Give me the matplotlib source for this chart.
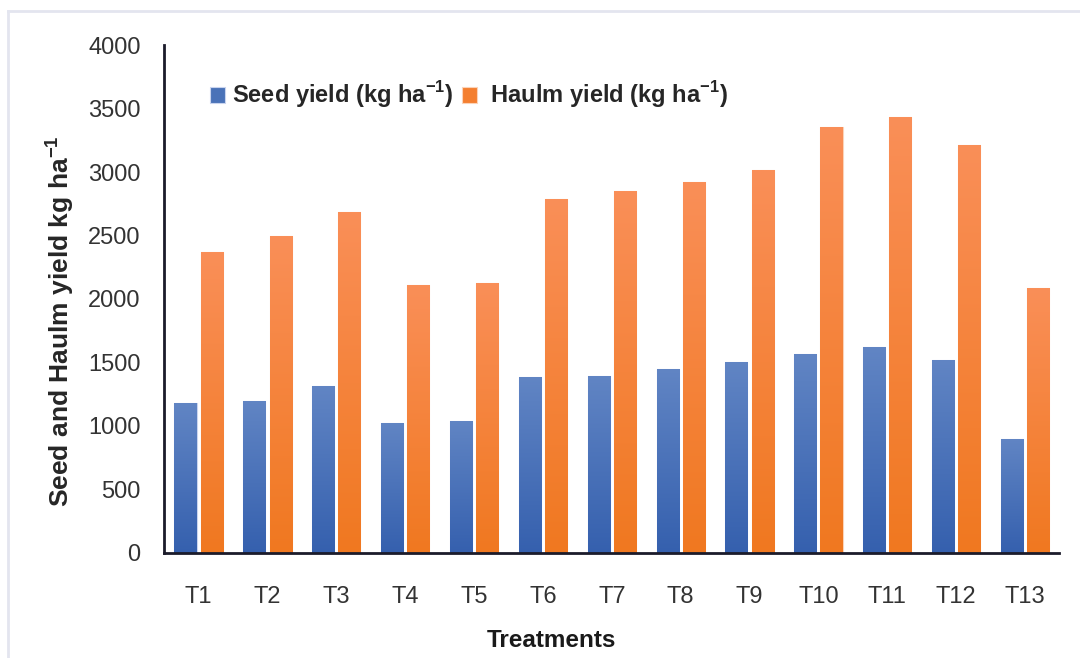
import numpy as np
import matplotlib.pyplot as plt
from matplotlib.colors import LinearSegmentedColormap
from matplotlib.lines import Line2D

treatments = ["T1", "T2", "T3", "T4", "T5", "T6", "T7", "T8", "T9", "T10", "T11", "T12", "T13"]
seed_yield = [1180, 1200, 1315, 1025, 1040, 1385, 1395, 1450, 1505, 1565, 1620, 1520, 900]
haulm_yield = [2370, 2495, 2685, 2110, 2125, 2785, 2850, 2920, 3015, 3355, 3430, 3215, 2085]

plt.rcParams['font.family'] = ['Liberation Sans', 'DejaVu Sans']

fig = plt.figure(figsize=(10.8, 6.58), dpi=100)
ax = fig.add_axes([0.152, 0.1596, 0.829, 0.772])

# faint frame around the picture
frame_col = "#e3e5ef"
fig.add_artist(Line2D([8 / 1080, 8 / 1080], [0, 1 - 11 / 658], transform=fig.transFigure, color=frame_col, lw=2))
fig.add_artist(Line2D([8 / 1080, 1], [1 - 11 / 658, 1 - 11 / 658], transform=fig.transFigure, color=frame_col, lw=2))

x = np.arange(len(treatments))
w = 0.32
gap = 0.03

blue_cmap = LinearSegmentedColormap.from_list("b", ["#3560ae", "#6185c4"])
orange_cmap = LinearSegmentedColormap.from_list("o", ["#f07820", "#fa8f58"])

b1 = ax.bar(x - w / 2 - gap, seed_yield, w, color="#4a72b8", edgecolor="#c9d4ee", lw=0.8,
            label=r"Seed yield (kg ha$^{\mathregular{-1}}$)")
b2 = ax.bar(x + w / 2 + gap, haulm_yield, w, color="#f47f30", edgecolor="#fbd3b8", lw=0.8,
            label=r" Haulm yield (kg ha$^{\mathregular{-1}}$)")

# vertical gradient inside each bar
grad = np.linspace(0, 1, 256).reshape(-1, 1)
for bars, cmap in ((b1, blue_cmap), (b2, orange_cmap)):
    for r in bars:
        x0 = r.get_x()
        im = ax.imshow(grad, cmap=cmap, origin="lower", aspect="auto",
                       extent=(x0, x0 + r.get_width(), 0, r.get_height()), zorder=r.get_zorder())
        im.set_clip_path(r)

ax.set_xlim(-0.5, 12.5)
ax.set_ylim(0, 4000)
ax.set_yticks(range(0, 4001, 500))
ax.set_xticks(x)
ax.set_xticklabels(treatments)
ax.tick_params(length=0, labelsize=17, colors="#333333")
ax.tick_params(axis="x", pad=24)
ax.tick_params(axis="y", pad=17)

for s in ("top", "right"):
    ax.spines[s].set_visible(False)
for s in ("left", "bottom"):
    ax.spines[s].set_color("#1b1b2a")
    ax.spines[s].set_linewidth(2)

ax.set_ylabel(r"Seed and Haulm yield kg ha$^{\mathregular{-1}}$", fontsize=19, fontweight="bold",
              color="#262626")
ax.yaxis.set_label_coords(-0.099, 0.457)
ax.set_xlabel("Treatments", fontsize=17.5, fontweight="bold", color="#1a1a1a")
ax.xaxis.set_label_coords(0.432, -0.15)

leg = ax.legend(loc="center left", bbox_to_anchor=(0.051, 0.902), ncol=2, frameon=False,
                prop={"size": 17, "weight": "bold"}, handlelength=0.64, handleheight=0.64,
                handletextpad=0.3, columnspacing=0.35, borderpad=0, borderaxespad=0,
                labelcolor="#262626")

fig.savefig("out.png", dpi=100)
